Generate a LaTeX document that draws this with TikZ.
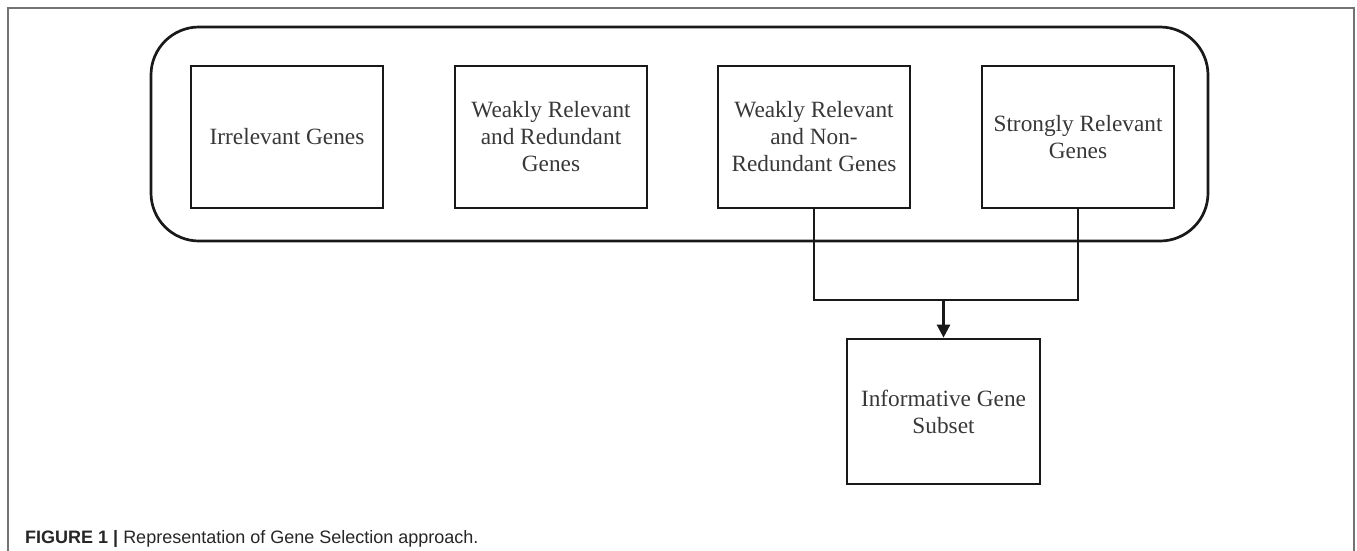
\documentclass[tikz,border=0pt]{standalone}
\usepackage{fontspec}
\setmainfont{Liberation Serif}
\newfontfamily\capfont{Liberation Sans}
\usetikzlibrary{arrows.meta}
\begin{document}
\begin{tikzpicture}[x=1pt,y=-1pt,
  box/.style={draw=black!90, line width=2.7pt, minimum width=192pt, minimum height=142pt,
    align=center, inner sep=0pt, text=black!78, font=\fontsize{23.3}{27}\selectfont},
  link/.style={draw=black!90, line width=2.5pt},
  frame/.style={draw=black!55, line width=1.4pt}]
\useasboundingbox (0,0) rectangle (1357,550);
\draw[frame] (8,560) -- (8,8) -- (1354,8) -- (1354,560);
\node[draw=black!90, line width=2.7pt, rounded corners=48pt, minimum width=1057pt,
  minimum height=214pt, inner sep=0pt] (group) at (679.5,134) {};
\node[box] (b1) at (287,137) {Irrelevant Genes};
\node[box] (b2) at (551,137) {Weakly Relevant\\and Redundant\\Genes};
\node[box] (b3) at (814,137) {Weakly Relevant\\and Non-\\Redundant Genes};
\node[box] (b4) at (1078,137) {Strongly Relevant\\Genes};
\node[box, minimum width=193pt, minimum height=145pt] (b5) at (943.5,411.5) {Informative Gene\\Subset};
\coordinate (j) at (943.5,300);
\draw[link] (b3.south) |- (j) -| (b4.south);
\draw[link, -{Triangle[width=13pt,length=13pt]}] (j) -- (b5.north);
\node[anchor=base west, inner sep=0pt, text=black!85, font=\capfont\fontsize{18}{21}\selectfont] (cap) at (25,543)
  {\textbf{FIGURE 1 |} Representation of Gene Selection approach.};
\end{tikzpicture}
\end{document}
